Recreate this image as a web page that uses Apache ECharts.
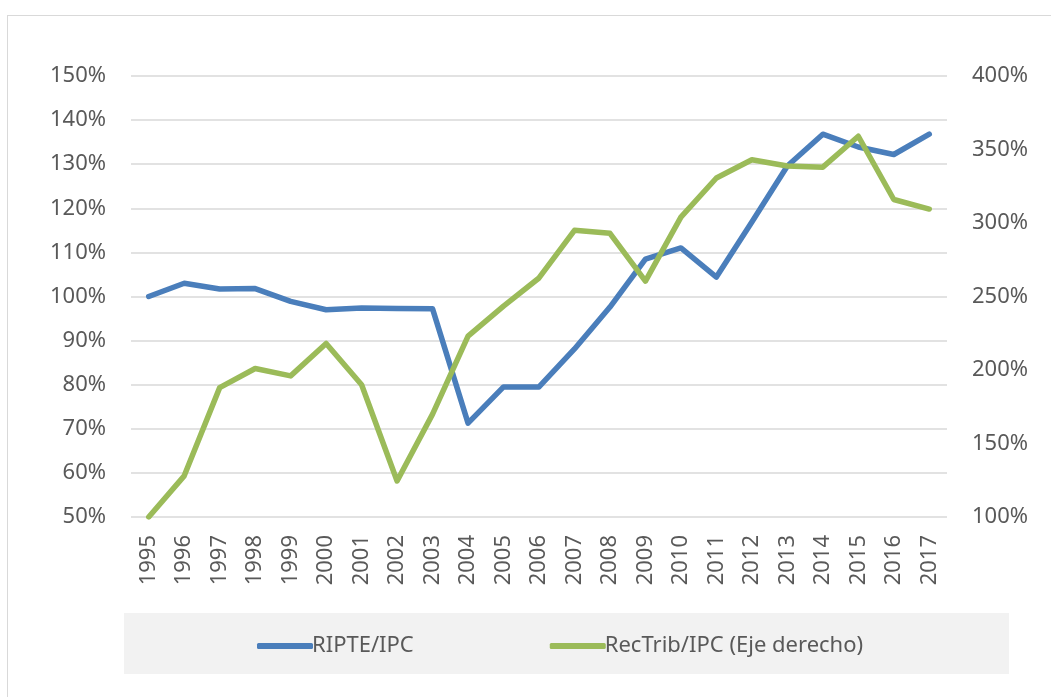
<!DOCTYPE html>
<html>
<head>
<meta charset="utf-8">
<script src="https://cdn.jsdelivr.net/npm/echarts@6/dist/echarts.min.js"></script>
<style>
  html, body { margin: 0; padding: 0; background: #fff; }
  #frame { position: absolute; left: 7px; top: 15px; width: 1100px; height: 720px; border: 1px solid #d9d9d9; box-sizing: border-box; }
  #chart { position: absolute; left: 0; top: 0; width: 1051px; height: 697px; }
</style>
</head>
<body>
<div id="frame"></div>
<div id="chart"></div>
<script>
// --- 数据 ---
const years = ['1995','1996','1997','1998','1999','2000','2001','2002','2003','2004','2005','2006',
  '2007','2008','2009','2010','2011','2012','2013','2014','2015','2016','2017'];
// RIPTE/IPC (eje izquierdo, %)
const ripte = [100, 103, 101.7, 101.8, 98.9, 97, 97.4, 97.3, 97.2, 71.3, 79.5, 79.5,
  88.1, 97.6, 108.5, 111, 104.4, 116.9, 129.6, 136.8, 133.9, 132.2, 136.8];
// RecTrib/IPC (eje derecho, %)
const recTrib = [100, 128, 188, 201, 196, 218, 190, 124.5, 170, 223, 243.5, 262.6,
  295, 293, 260.5, 304, 330.6, 343, 338.8, 338, 359, 316, 309.5];
const leftTicks = { min: 50, max: 150, interval: 10 };
const rightTicks = { min: 100, max: 400, interval: 50 };

const chart = echarts.init(document.getElementById('chart'));
const labelColor = '#595959';
const font = 'Noto Sans';

chart.setOption({
  animation: false,
  backgroundColor: 'transparent',
  graphic: [{
    type: 'rect',
    shape: { x: 124, y: 613, width: 885, height: 61 },
    style: { fill: '#f2f2f2' },
    z: -1
  }],
  grid: { left: 131, right: 104, top: 76, bottom: 180 },
  legend: {
    left: 252, top: 630,
    itemWidth: 56, itemHeight: 6, itemGap: 136,
    icon: 'roundRect',
    textStyle: { color: labelColor, fontSize: 22, fontFamily: font, padding: [0, 0, 0, -6] },
    data: ['RIPTE/IPC', 'RecTrib/IPC (Eje derecho)']
  },
  xAxis: {
    type: 'category',
    data: years,
    boundaryGap: true,
    axisLine: { show: false },
    axisTick: { show: false },
    axisLabel: { rotate: 90, color: labelColor, fontSize: 22, fontFamily: font, margin: 18 }
  },
  yAxis: [{
    type: 'value',
    min: leftTicks.min, max: leftTicks.max, interval: leftTicks.interval,
    axisLabel: { formatter: '{value}%', color: labelColor, fontSize: 22, fontFamily: font, margin: 25 },
    splitLine: { lineStyle: { color: '#d9d9d9', width: 1.5 } }
  }, {
    type: 'value',
    min: rightTicks.min, max: rightTicks.max, interval: rightTicks.interval,
    axisLabel: { formatter: '{value}%', color: labelColor, fontSize: 22, fontFamily: font, margin: 25 },
    splitLine: { show: false }
  }],
  series: [{
    name: 'RIPTE/IPC',
    type: 'line',
    data: ripte,
    yAxisIndex: 0,
    symbol: 'none',
    itemStyle: { color: '#4a7ebb' },
    lineStyle: { color: '#4a7ebb', width: 5.5, cap: 'round', join: 'round' },
    z: 2
  }, {
    name: 'RecTrib/IPC (Eje derecho)',
    type: 'line',
    data: recTrib,
    yAxisIndex: 1,
    symbol: 'none',
    itemStyle: { color: '#9bbb59' },
    lineStyle: { color: '#9bbb59', width: 5.5, cap: 'round', join: 'round' },
    z: 3
  }]
});

window.addEventListener('resize', () => chart.resize());
</script>
</body>
</html>
